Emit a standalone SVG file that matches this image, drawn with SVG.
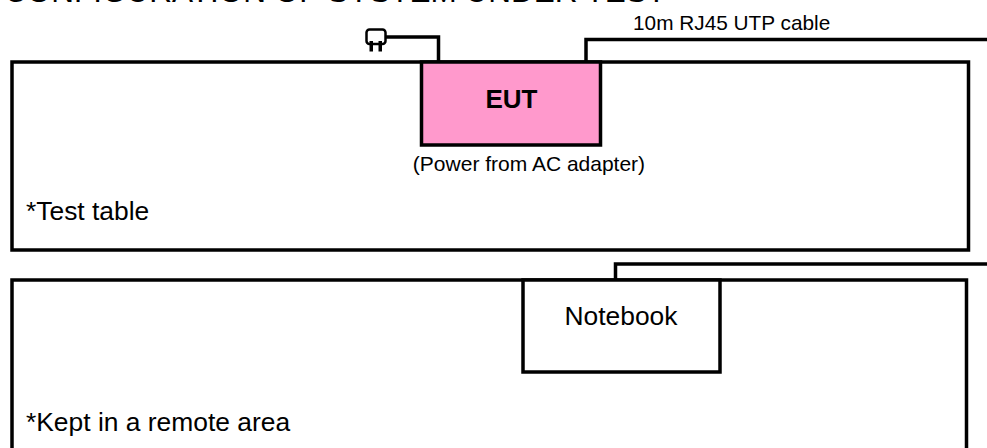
<svg xmlns="http://www.w3.org/2000/svg" width="987" height="448" viewBox="0 0 987 448">
<style>
.box{fill:#fff;stroke:#000;stroke-width:3.5}
.eut{fill:#ff99cc;stroke:#000;stroke-width:3.5}
.line{fill:none;stroke:#000;stroke-width:3.5}
text{font-family:"Liberation Sans",Arial,sans-serif;fill:#000}
</style>
<rect width="987" height="448" fill="#fff"/>
<text x="4" y="2" font-size="31.500">CONFIGURATION OF SYSTEM UNDER TEST</text>
<g id="test-table"><rect class="box" x="12" y="62" width="956.5" height="188"/><text x="26" y="220" font-size="26.400">*Test table</text></g>
<g id="remote-area"><rect class="box" x="12" y="280" width="954.5" height="180"/><text x="26" y="431" font-size="26.400">*Kept in a remote area</text></g>
<g id="eut"><rect class="eut" x="421.5" y="62" width="179" height="83"/><text x="511.500" y="108" font-size="26" font-weight="bold" text-anchor="middle">EUT</text><text x="529" y="171" font-size="21" text-anchor="middle">(Power from AC adapter)</text></g>
<g id="notebook"><rect class="box" x="523" y="280" width="197" height="92"/><text x="621" y="325" font-size="26.400" text-anchor="middle">Notebook</text></g>
<g id="plug"><rect x="366.500" y="29.500" width="19" height="14.500" rx="3" fill="#fff" stroke="#000" stroke-width="2.500"/><rect x="369.500" y="41" width="3.500" height="10.500"/><rect x="378.500" y="41" width="3.500" height="10.500"/></g>
<g id="connectors"><path class="line" d="M386 37H438.500V62"/><path class="line" d="M586 62V39.500H987"/><path class="line" d="M615.500 280V264H987"/></g>
<text x="633" y="29.500" font-size="20.800">10m RJ45 UTP cable</text>
</svg>
